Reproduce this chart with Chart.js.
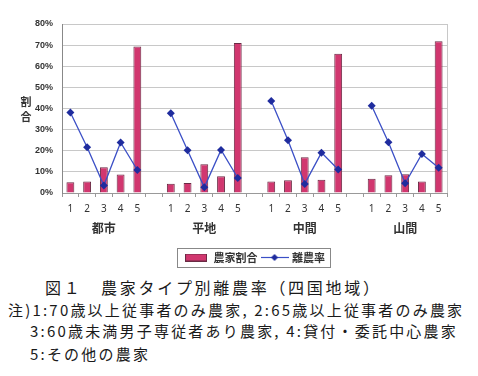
<!DOCTYPE html>
<html>
<head>
<meta charset="utf-8">
<script src="https://cdn.jsdelivr.net/npm/chart.js@4/dist/chart.umd.min.js"></script>
<style>
  body { margin: 0; background: #fff; font-family: "Noto Sans CJK JP", sans-serif; color: #1a1a1a; }
  #wrap { position: absolute; left: 0; top: 0; width: 478px; height: 273px; }
  .cap { position: absolute; white-space: nowrap; line-height: 1; }
  #ytitle { position: absolute; left: 19px; top: 94px; width: 14px; font-size: 11px; font-weight: bold; line-height: 15px; color: #333; text-align: center; }
</style>
</head>
<body>
<div id="wrap"><canvas id="chart"></canvas></div>
<div id="ytitle">割<br>合</div>
<div class="cap" style="left:45px; top:279px; font-size:16px; letter-spacing:2.7px;">図１　農家タイプ別離農率（四国地域）</div>
<div class="cap" style="left:8px; top:302px; font-size:15px; letter-spacing:2.2px;">注)1:70歳以上従事者のみ農家, 2:65歳以上従事者のみ農家</div>
<div class="cap" style="left:30px; top:323px; font-size:15px; letter-spacing:2.2px;">3:60歳未満男子専従者あり農家, 4:貸付・委託中心農家</div>
<div class="cap" style="left:30px; top:346px; font-size:15px; letter-spacing:2.2px;">5:その他の農家</div>
<script>
// categories: 4 areas x 5 farm types, blank slot between areas
const itemLabels = ['1','2','3','4','5','', '1','2','3','4','5','', '1','2','3','4','5','', '1','2','3','4','5'];
const groupLabels = ['','','都市','','','', '','','平地','','','', '','','中間','','','', '','','山間','',''];
// 農家割合 (%)
const farmShare = [5.1,5.5,12.2,8.7,69.4,null, 4.4,4.7,13.6,7.9,71.0,null, 5.5,6.0,16.9,6.3,65.9,null, 6.8,8.4,8.9,5.5,71.8];
// 離農率 (%)
const exitRate = [38.1,21.7,3.5,23.9,10.9,null, 37.8,20.2,2.7,20.4,7.1,null, 43.6,25.0,4.3,19.1,11.1,null, 41.3,24.0,4.6,18.5,11.9];
const yTicks = [0,10,20,30,40,50,60,70,80];

const barColor = '#d1376f';
const lineColor = '#3b4fc6';
const markColor = '#1f2c9e';

// legend swatches
function barSwatch() {
  const c = document.createElement('canvas');
  c.width = 22; c.height = 8;
  const g = c.getContext('2d');
  g.fillStyle = barColor; g.fillRect(0.5, 0.5, 21, 7);
  g.strokeStyle = '#6a2a44'; g.lineWidth = 1; g.strokeRect(0.5, 0.5, 21, 7);
  return c;
}
function lineSwatch() {
  const c = document.createElement('canvas');
  c.width = 28; c.height = 9;
  const g = c.getContext('2d');
  g.strokeStyle = lineColor; g.lineWidth = 1.2;
  g.beginPath(); g.moveTo(0, 4.5); g.lineTo(28, 4.5); g.stroke();
  g.fillStyle = markColor;
  g.beginPath(); g.moveTo(14, 1); g.lineTo(17.5, 4.5); g.lineTo(14, 8); g.lineTo(10.5, 4.5); g.closePath(); g.fill();
  return c;
}

const extras = {
  id: 'extras',
  beforeDatasetsDraw(chart) {
    const a = chart.chartArea, ctx = chart.ctx;
    ctx.save();
    ctx.strokeStyle = '#c8c8c8'; ctx.lineWidth = 1;
    ctx.beginPath();
    ctx.moveTo(a.right + 0.5, a.top); ctx.lineTo(a.right + 0.5, a.bottom);
    ctx.stroke();
    ctx.restore();
  },
  afterDraw(chart) {
    const ctx = chart.ctx;
    // legend frame
    const boxes = chart.legend.legendHitBoxes;
    if (boxes && boxes.length) {
      let l = Infinity, r = -Infinity, t = Infinity, b = -Infinity;
      boxes.forEach(h => { l = Math.min(l, h.left); r = Math.max(r, h.left + h.width); t = Math.min(t, h.top); b = Math.max(b, h.top + h.height); });
      ctx.save();
      ctx.strokeStyle = '#888'; ctx.lineWidth = 1;
      ctx.strokeRect(Math.round(l - 7) + 0.5, Math.round(t - 4) + 0.5, Math.round(r - l + 12), Math.round(b - t + 8));
      ctx.restore();
    }
  }
};

new Chart(document.getElementById('chart'), {
  type: 'bar',
  data: {
    labels: itemLabels,
    datasets: [
      {
        type: 'bar',
        label: '農家割合',
        data: farmShare,
        backgroundColor: barColor,
        borderColor: '#6a2a44',
        borderWidth: 1,
        barPercentage: 0.47,
        categoryPercentage: 1,
        order: 2
      },
      {
        type: 'line',
        label: '離農率',
        data: exitRate,
        borderColor: lineColor,
        borderWidth: 1.3,
        backgroundColor: markColor,
        pointStyle: 'rectRot',
        pointRadius: 4,
        pointBorderWidth: 0,
        pointBackgroundColor: markColor,
        spanGaps: false,
        tension: 0,
        order: 1
      }
    ]
  },
  options: {
    responsive: true,
    maintainAspectRatio: false,
    animation: false,
    layout: { padding: { left: 26, right: 31, top: 24, bottom: 0 } },
    plugins: {
      tooltip: { enabled: false },
      legend: {
        position: 'bottom',
        fullSize: false,
        title: { display: true, text: '', font: { size: 8 }, padding: 1 },
        labels: {
          usePointStyle: true,
          pointStyleWidth: 24,
          padding: 5,
          color: '#333',
          font: { family: '"Noto Sans CJK JP"', size: 11, weight: 'bold' },
          generateLabels(chart) {
            return chart.data.datasets.map((ds, i) => ({
              text: ds.label,
              pointStyle: i === 0 ? barSwatch() : lineSwatch(),
              fillStyle: ds.backgroundColor,
              strokeStyle: ds.borderColor,
              lineWidth: 0,
              datasetIndex: i,
              fontColor: '#333'
            }));
          }
        }
      }
    },
    scales: {
      x: {
        type: 'category',
        offset: true,
        grid: { display: true, drawOnChartArea: false, tickLength: 4, color: '#999', offset: true },
        border: { display: true, color: '#999' },
        ticks: { color: '#333', font: { family: '"Noto Sans", sans-serif', size: 10 }, padding: 6, autoSkip: false, maxRotation: 0 }
      },
      x2: {
        type: 'category',
        labels: groupLabels,
        position: 'bottom',
        offset: true,
        grid: { display: false, drawTicks: false },
        border: { display: false },
        ticks: { color: '#333', font: { family: '"Noto Sans CJK JP"', size: 12, weight: 'bold' }, padding: 0, autoSkip: false, maxRotation: 0 }
      },
      y: {
        min: 0,
        max: 80,
        afterBuildTicks(scale) { scale.ticks = yTicks.map(v => ({ value: v })); },
        grid: { color: '#c8c8c8', drawTicks: false },
        border: { display: true, color: '#888' },
        ticks: { color: '#333', padding: 9, font: { family: '"Liberation Sans", sans-serif', size: 9, weight: 'bold' }, callback: v => v + '%' }
      }
    }
  },
  plugins: [extras]
});
</script>
</body>
</html>
